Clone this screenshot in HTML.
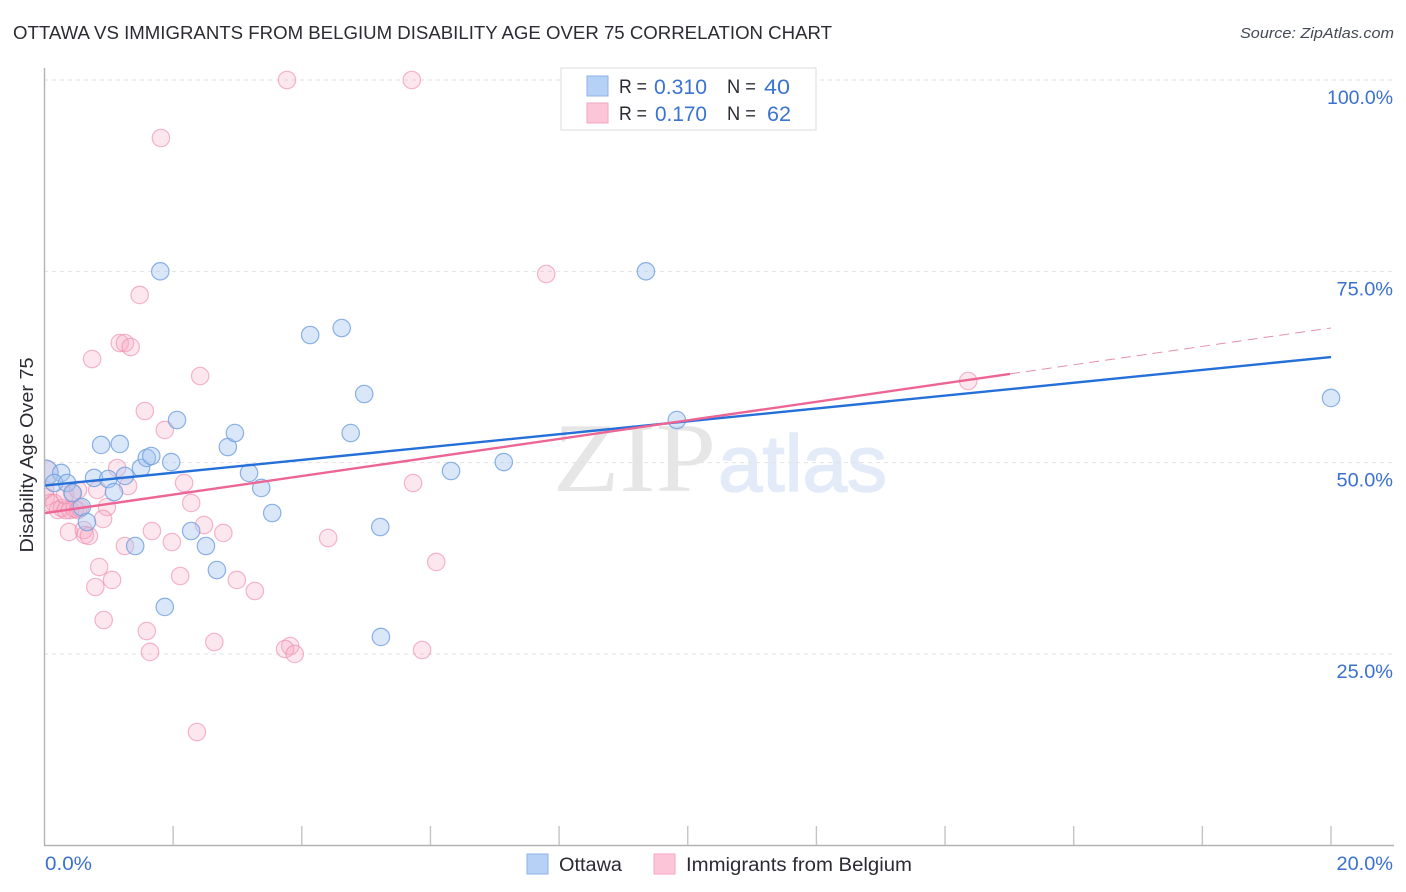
<!DOCTYPE html>
<html>
<head>
<meta charset="utf-8">
<title>Ottawa vs Immigrants from Belgium Disability Age Over 75 Correlation Chart</title>
<style>
html,body{margin:0;padding:0;background:#fff;}
svg{display:block;font-family:"Liberation Sans",sans-serif;}
</style>
</head>
<body>
<svg id="chart" width="1406" height="892" viewBox="0 0 1406 892" xmlns="http://www.w3.org/2000/svg">
  <defs><clipPath id="plot-clip"><rect x="44" y="60" width="1350" height="786"/></clipPath></defs>
  <rect x="0" y="0" width="1406" height="892" fill="#ffffff"/>
  <text x="13" y="39" font-size="18.5" fill="#2b2b33" textLength="819" lengthAdjust="spacingAndGlyphs">OTTAWA VS IMMIGRANTS FROM BELGIUM DISABILITY AGE OVER 75 CORRELATION CHART</text>
  <text x="1394" y="38" font-size="15" font-style="italic" fill="#444a55" text-anchor="end" textLength="154" lengthAdjust="spacingAndGlyphs">Source: ZipAtlas.com</text>

  <g>
    <text x="553" y="491" font-family="'Liberation Serif',serif" font-size="99" fill="#e6e6e6" textLength="163" lengthAdjust="spacingAndGlyphs">ZIP</text>
    <text x="718" y="491" font-family="'Liberation Sans',sans-serif" font-size="80" fill="#e3ebf8" stroke="#e3ebf8" stroke-width="1.5" textLength="169" lengthAdjust="spacingAndGlyphs">atlas</text>
  </g>

  <g id="grid"></g>
  <g id="marks-pink" clip-path="url(#plot-clip)"></g>
  <g id="marks-blue" clip-path="url(#plot-clip)"></g>
  <g id="trends"></g>
  <g id="axes"></g>
  <g id="labels"></g>

  <text transform="translate(33,455) rotate(-90)" font-size="18" fill="#2b2b33" text-anchor="middle" textLength="195" lengthAdjust="spacingAndGlyphs">Disability Age Over 75</text>

  <g>
    <rect x="561" y="68" width="255" height="62" fill="#ffffff" stroke="#dcdcdc" stroke-width="1"/>
    <rect x="587" y="76" width="21" height="20" fill="#b5d1f5" stroke="#8fb3e6" stroke-width="1"/>
    <rect x="587" y="103" width="21" height="20" fill="#fcc6d8" stroke="#f3a6c0" stroke-width="1"/>
    <text x="619" y="93" font-size="19" fill="#2b2b33" textLength="28" lengthAdjust="spacingAndGlyphs">R =</text>
    <text x="654" y="94" font-size="21" fill="#3b73d1" textLength="53" lengthAdjust="spacingAndGlyphs">0.310</text>
    <text x="727" y="93" font-size="19" fill="#2b2b33" textLength="29" lengthAdjust="spacingAndGlyphs">N =</text>
    <text x="764" y="94" font-size="21" fill="#3b73d1" textLength="26" lengthAdjust="spacingAndGlyphs">40</text>
    <text x="619" y="120" font-size="19" fill="#2b2b33" textLength="28" lengthAdjust="spacingAndGlyphs">R =</text>
    <text x="655" y="121" font-size="21" fill="#3b73d1" textLength="52" lengthAdjust="spacingAndGlyphs">0.170</text>
    <text x="727" y="120" font-size="19" fill="#2b2b33" textLength="29" lengthAdjust="spacingAndGlyphs">N =</text>
    <text x="767" y="121" font-size="21" fill="#3b73d1" textLength="24" lengthAdjust="spacingAndGlyphs">62</text>
  </g>

  <g>
    <rect x="527" y="854" width="21" height="20" fill="#b5d1f5" stroke="#8fb3e6" stroke-width="1"/>
    <text x="559" y="871" font-size="19" fill="#2b2b33" textLength="63" lengthAdjust="spacingAndGlyphs">Ottawa</text>
    <rect x="654" y="854" width="21" height="20" fill="#fcc6d8" stroke="#f3a6c0" stroke-width="1"/>
    <text x="686" y="871" font-size="19" fill="#2b2b33" textLength="226" lengthAdjust="spacingAndGlyphs">Immigrants from Belgium</text>
  </g>
</svg>
<script>
const yTickValues = [25, 50, 75, 100];
const yTickLabels = ["25.0%", "50.0%", "75.0%", "100.0%"];
const xTickValues = [2, 4, 6, 8, 10, 12, 14, 16, 18, 20];
const xEndLabels = ["0.0%", "20.0%"];

const ottawaX = [0.01,0.26,0.15,0.35,0.44,0.58,0.66,0.77,0.88,1.17,0.99,1.08,1.25,1.50,1.59,1.66,1.97,2.06,2.85,2.96,3.18,3.37,3.54,1.41,1.87,2.28,2.51,2.68,1.80,4.13,4.62,4.97,4.76,5.22,5.23,6.32,7.14,9.35,9.83,20.0];
const ottawaY = [48.65,48.65,47.34,47.34,46.03,44.2,42.24,48.0,52.31,52.44,47.86,46.16,48.26,49.3,50.61,50.87,50.08,55.57,52.04,53.87,48.65,46.69,43.42,39.11,31.14,41.07,39.11,35.97,75.0,66.68,67.59,58.97,53.87,41.59,27.22,48.91,50.08,75.0,55.57,58.45];

const belgiumX = [0.01,3.77,5.71,1.81,7.80,1.48,1.17,1.25,1.34,0.74,2.42,14.36,1.56,1.87,1.13,1.30,0.82,2.17,2.28,0.97,0.91,1.67,1.98,2.48,2.78,1.25,0.38,0.61,0.63,0.69,0.85,1.05,0.79,2.11,2.99,3.27,0.92,1.59,1.64,2.64,3.82,3.74,3.89,5.87,2.37,4.41,5.73,6.09,0.01,0.02,0.09,0.15,0.21,0.27,0.33,0.40,0.47,0.52,0.55,0.32,0.43,0.52];
const belgiumY = [48.65,100,100,92.42,74.65,71.91,65.63,65.63,65.11,63.54,61.32,60.67,56.75,54.27,49.3,46.95,46.43,47.34,44.73,44.2,42.64,41.07,39.63,41.85,40.81,39.11,40.94,41.2,40.55,40.42,36.36,34.67,33.75,35.19,34.67,33.23,29.44,28.0,25.26,26.56,26.04,25.65,25.0,25.52,14.8,40.15,47.34,37.02,46.43,45.51,44.73,44.73,43.81,44.07,43.81,43.81,43.94,43.81,44.07,45.77,46.03,46.43];

const ottawaTrendX = [0, 20];
const ottawaTrendY = [47.0, 63.8];
const belgiumSolidX = [0, 15.01];
const belgiumSolidY = [43.4, 61.6];
const belgiumDashedX = [15.01, 20];
const belgiumDashedY = [61.6, 67.6];

const NS = "http://www.w3.org/2000/svg";
const xScale = v => 44.5 + v * 64.325;
const yScale = v => 80 + (100 - v) * 7.653;
const labelWidth = s => 9.5 * s.length + 9;

function make(tag, attrs, parent) {
  const el = document.createElementNS(NS, tag);
  for (const k in attrs) el.setAttribute(k, attrs[k]);
  parent.appendChild(el);
  return el;
}

const grid = document.getElementById("grid");
const axes = document.getElementById("axes");
const labels = document.getElementById("labels");
const trends = document.getElementById("trends");
const marksBlue = document.getElementById("marks-blue");
const marksPink = document.getElementById("marks-pink");

yTickValues.forEach((v, i) => {
  const line = make("line", {x1: 44, x2: 1394, y1: yScale(v), y2: yScale(v), stroke: "#e2e2e2", "stroke-width": 1, "stroke-dasharray": "4 4"}, grid);
  
  
  const t = make("text", {x: 1393, y: yScale(v) + 24, "font-size": 19.5, fill: "#3a70d0", "text-anchor": "end", textLength: labelWidth(yTickLabels[i]), lengthAdjust: "spacingAndGlyphs"}, labels);
  
  
  t.textContent = yTickLabels[i];
});

const topGrid = make("line", {x1: 44, x2: 1394, y1: yScale(100), y2: yScale(100), stroke: "#e2e2e2", "stroke-width": 1, "stroke-dasharray": "4 4"}, grid);



const yAxis = make("line", {x1: 44.5, x2: 44.5, y1: 68, y2: 846, stroke: "#b3b3b3", "stroke-width": 1.4}, axes);


const xAxis = make("line", {x1: 44, x2: 1394, y1: 845.5, y2: 845.5, stroke: "#b3b3b3", "stroke-width": 1.4}, axes);



xTickValues.forEach(v => {
  const tick = make("line", {x1: xScale(v), x2: xScale(v), y1: 826, y2: 845, stroke: "#c4c4c4", "stroke-width": 1.4}, axes);
  
  
});

const xLabelLeft = make("text", {x: 45, y: 870, "font-size": 19.5, fill: "#3a70d0", textLength: labelWidth(xEndLabels[0]), lengthAdjust: "spacingAndGlyphs"}, labels);


xLabelLeft.textContent = xEndLabels[0];
const xLabelRight = make("text", {x: 1393, y: 870, "font-size": 19.5, fill: "#3a70d0", "text-anchor": "end", textLength: labelWidth(xEndLabels[1]), lengthAdjust: "spacingAndGlyphs"}, labels);


xLabelRight.textContent = xEndLabels[1];

belgiumX.forEach((v, i) => {
  const c = make("circle", {cx: xScale(v), cy: yScale(belgiumY[i]), r: i === 0 ? 13 : 8.7, fill: "#f7a8c2", "fill-opacity": 0.28, stroke: "#ee8fb0", "stroke-opacity": 0.65, "stroke-width": 1.2}, marksPink);
  
  
});

ottawaX.forEach((v, i) => {
  const c = make("circle", {cx: xScale(v), cy: yScale(ottawaY[i]), r: i === 0 ? 13 : 8.7, fill: "#a5c6f1", "fill-opacity": 0.42, stroke: "#6f9fe0", "stroke-opacity": 0.8, "stroke-width": 1.2}, marksBlue);
  
  
});

const blueLine = make("line", {x1: xScale(ottawaTrendX[0]), y1: yScale(ottawaTrendY[0]), x2: xScale(ottawaTrendX[1]), y2: yScale(ottawaTrendY[1]), stroke: "#2470d8", "stroke-width": 2.4}, trends);



const pinkLine = make("line", {x1: xScale(belgiumSolidX[0]), y1: yScale(belgiumSolidY[0]), x2: xScale(belgiumSolidX[1]), y2: yScale(belgiumSolidY[1]), stroke: "#ec6595", "stroke-width": 2.4}, trends);



const pinkDash = make("line", {x1: xScale(belgiumDashedX[0]), y1: yScale(belgiumDashedY[0]), x2: xScale(belgiumDashedX[1]), y2: yScale(belgiumDashedY[1]), stroke: "#e78fb0", "stroke-width": 1, "stroke-dasharray": "10 6"}, trends);


</script>
</body>
</html>
